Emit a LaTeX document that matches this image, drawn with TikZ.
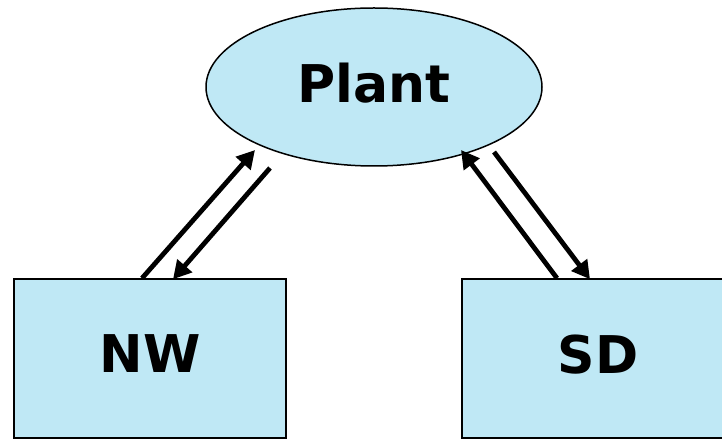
\documentclass[tikz,border=0pt]{standalone}
\usepackage{fontspec}
\setsansfont{DejaVu Sans}
\usetikzlibrary{arrows.meta,positioning,calc,shapes.geometric}
\definecolor{PaleBlue}{HTML}{BFE8F5}

\begin{document}
\begin{tikzpicture}[x=1pt, y=1pt,
    part/.style={draw=black, line width=1.5pt, fill=PaleBlue, inner sep=0pt, text depth=9pt,
      font=\fontsize{52}{60}\selectfont\sffamily\bfseries},
    flow/.style={line width=4.8pt, -{Triangle[length=18pt,width=19pt]}}]
    \useasboundingbox (0,0) rectangle (722,439);
    \node[part, ellipse, minimum width=336pt, minimum height=158pt] (plant) at (374,352) {Plant};
    \node[part, rectangle, minimum width=272pt, minimum height=159pt] (nw) at (150,80.5) {NW};
    \node[part, rectangle, minimum width=272pt, minimum height=159pt] (sd) at (598,80.5) {SD};
    % left pair
    \draw[flow] ($(nw.north)+(-8,0)$) -- ($(plant.center)+(-119,-63)$);
    \draw[flow] ($(plant.center)+(-104,-81)$) -- ($(nw.north)+(23,-1)$);
    % right pair
    \draw[flow] ($(sd.north)+(-41,0)$) -- ($(plant.center)+(87,-63)$);
    \draw[flow] ($(plant.center)+(120,-65)$) -- ($(sd.north)+(-8,-1)$);
\end{tikzpicture}
\end{document}
